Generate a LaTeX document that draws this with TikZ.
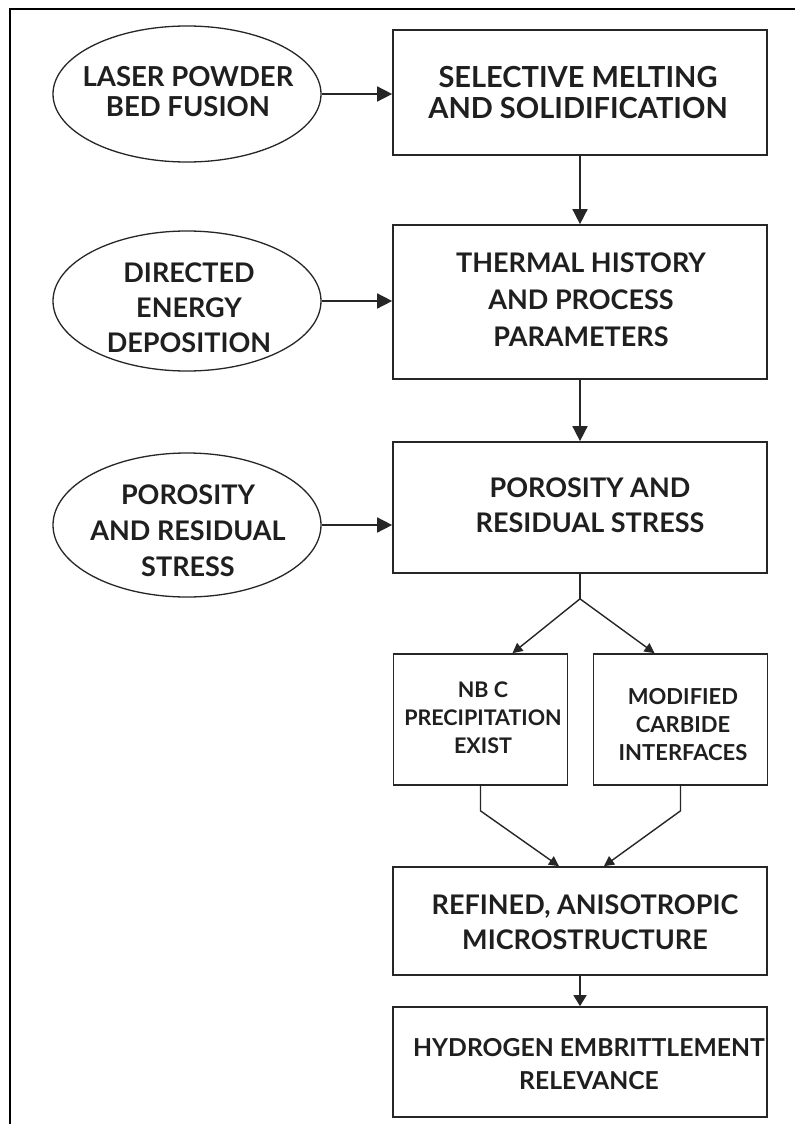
\documentclass[tikz,border=0pt]{standalone}
\usepackage{fontspec}
\setmainfont{Lato}
\usetikzlibrary{shapes.geometric,arrows.meta,calc}
\newcommand\fsz[2]{\fontsize{#1}{#2}\selectfont\bfseries}
\begin{document}
\begin{tikzpicture}[x=1pt,y=-1pt,
  frame/.style={line width=1.8pt, draw=black},
  box/.style={draw=black!85, line width=1.7pt, rectangle, minimum width=374pt, inner sep=0pt},
  smallbox/.style={box, minimum width=174pt, minimum height=131pt},
  oval/.style={draw=black!85, line width=1.3pt, ellipse, minimum width=268pt, inner sep=0pt},
  txt/.style={align=center, inner sep=0pt, text=black!88},
  arr/.style={line width=1.6pt, draw=black!85, -{Triangle[length=15pt,width=15pt]}},
  sarr/.style={line width=1.4pt, draw=black!85, -{Triangle[length=10pt,width=10pt]}},
  link/.style={line width=1.5pt, draw=black!85}
]
\useasboundingbox (0,0) rectangle (795,1124);
\fill[white] (0,0) rectangle (795,1124);
% outer frame (open to the right and bottom)
\draw[frame] (10,1124) -- (10,9) -- (795,9);

% process inputs
\node[oval, minimum height=136pt] (e1) at (187,94) {};
\node[oval, minimum height=140pt] (e2) at (187,301) {};
\node[oval, minimum height=144pt] (e3) at (187,525) {};

% main chain
\node[box, minimum height=125pt] (b1) at (580,92.5) {};
\node[box, minimum height=154pt] (b2) at (580,302) {};
\node[box, minimum height=131pt] (b3) at (580,507.5) {};
\node[smallbox] (s1) at (480.5,719.5) {};
\node[smallbox] (s2) at (680.5,719.5) {};
\node[box, minimum height=108pt] (b4) at (580,921) {};
\node[box, minimum height=110pt] (b5) at (580,1062) {};

% labels
\node[txt, font=\fsz{27.5}{30}] (e1t) at (188,92) {LASER POWDER\\BED FUSION};
\node[txt, font=\fsz{27}{35}] (e2t) at (189,308) {DIRECTED\\ENERGY\\DEPOSITION};
\node[txt, font=\fsz{27}{36}] (e3t) at (188,531) {POROSITY\\AND RESIDUAL\\STRESS};
\node[txt, font=\fsz{29}{31}] (b1t) at (578,92.5) {SELECTIVE MELTING\\AND SOLIDIFICATION};
\node[txt, font=\fsz{27}{37}] (b2t) at (581,300) {THERMAL HISTORY\\AND PROCESS\\PARAMETERS};
\node[txt, font=\fsz{27}{35}] (b3t) at (590,505.5) {POROSITY AND\\RESIDUAL STRESS};
\node[txt, font=\fsz{21.5}{28}] (s1t) at (483,718) {NB C\\PRECIPITATION\\EXIST};
\node[txt, font=\fsz{22}{28}] (s2t) at (683,725) {MODIFIED\\CARBIDE\\INTERFACES};
\node[txt, font=\fsz{27}{35}] (b4t) at (585,922.5) {REFINED, ANISOTROPIC\\MICROSTRUCTURE};
\node[txt, font=\fsz{24.7}{33}] (b5t) at (589,1064.5) {HYDROGEN EMBRITTLEMENT\\RELEVANCE};

% connectors
\draw[arr] (e1.east) -- (e1.east -| b1.west);
\draw[arr] (e2.east) -- (e2.east -| b2.west);
\draw[arr] (e3.east) -- (e3.east -| b3.west);
\draw[arr] (b1.south) -- (b2.north);
\draw[arr] (b2.south) -- (b3.north);
\draw[link] (b3.south) -- ++(0,25) coordinate (fork);
\draw[sarr] (fork) -- ($(s1.north)+(32,0)$);
\draw[sarr] (fork) -- ($(s2.north)+(-26,0)$);
\draw[sarr] (s1.south) -- ++(0,25) -- ($(b4.north)+(-21,0)$);
\draw[sarr] (s2.south) -- ++(0,25) -- ($(b4.north)+(24,0)$);
\draw[line width=1.6pt, draw=black!85, -{Triangle[length=11pt,width=13pt]}] (b4.south) -- (b5.north);
\end{tikzpicture}
\end{document}
